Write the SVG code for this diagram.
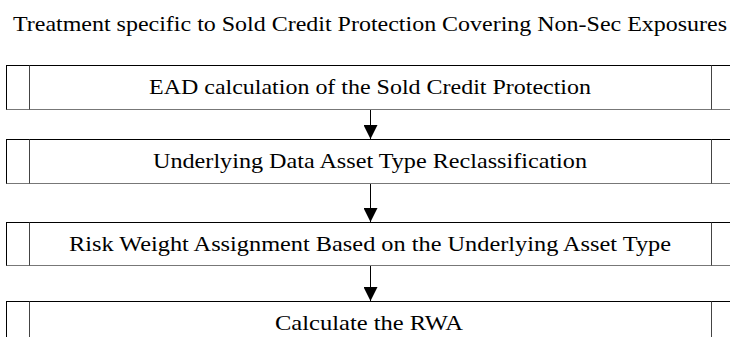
<svg xmlns="http://www.w3.org/2000/svg" width="730" height="337" viewBox="0 0 730 337">
<defs>
<style>
.box{fill:#fff;stroke:#000;stroke-width:1}
.bot{stroke:#777;stroke-width:1}
.bar{stroke:#444;stroke-width:1}
.conn{stroke:#000;stroke-width:1;fill:none}
</style>
<marker id="ah" markerWidth="14" markerHeight="14" refX="14" refY="7" orient="auto" markerUnits="userSpaceOnUse">
<path d="M0,0 L14,7 L0,14 Z" fill="#000"/>
</marker>
</defs>
<rect width="730" height="337" fill="#fff"/>
<g font-family="Liberation Serif, DejaVu Serif, serif" font-size="22" fill="#000">
<text x="13" y="31" textLength="714" lengthAdjust="spacingAndGlyphs">Treatment specific to Sold Credit Protection Covering Non-Sec Exposures</text>
<g id="n1">
<rect class="box" x="6.5" y="65.5" width="728" height="44"/>
<line class="bot" x1="6.5" y1="109.5" x2="734.5" y2="109.5"/>
<line class="bar" x1="29.5" y1="65.5" x2="29.5" y2="109.5"/>
<line class="bar" x1="711.5" y1="65.5" x2="711.5" y2="109.5"/>
<text x="149" y="94" textLength="442" lengthAdjust="spacingAndGlyphs">EAD calculation of the Sold Credit Protection</text>
</g>
<g id="n2">
<rect class="box" x="6.5" y="139.5" width="728" height="44"/>
<line class="bot" x1="6.5" y1="183.5" x2="734.5" y2="183.5"/>
<line class="bar" x1="29.5" y1="139.5" x2="29.5" y2="183.5"/>
<line class="bar" x1="711.5" y1="139.5" x2="711.5" y2="183.5"/>
<text x="153" y="168" textLength="434" lengthAdjust="spacingAndGlyphs">Underlying Data Asset Type Reclassification</text>
</g>
<g id="n3">
<rect class="box" x="6.5" y="222.5" width="728" height="43"/>
<line class="bot" x1="6.5" y1="265.5" x2="734.5" y2="265.5"/>
<line class="bar" x1="29.5" y1="222.5" x2="29.5" y2="265.5"/>
<line class="bar" x1="711.5" y1="222.5" x2="711.5" y2="265.5"/>
<text x="69" y="251" textLength="602" lengthAdjust="spacingAndGlyphs">Risk Weight Assignment Based on the Underlying Asset Type</text>
</g>
<g id="n4">
<rect class="box" x="6.5" y="301.5" width="728" height="44"/>
<line class="bar" x1="29.5" y1="301.5" x2="29.5" y2="345.5"/>
<line class="bar" x1="711.5" y1="301.5" x2="711.5" y2="345.5"/>
<text x="275" y="330" textLength="188" lengthAdjust="spacingAndGlyphs">Calculate the RWA</text>
</g>
</g>
<g id="connectors">
<line class="conn" x1="370.5" y1="110" x2="370.5" y2="139" marker-end="url(#ah)"/>
<line class="conn" x1="370.5" y1="184" x2="370.5" y2="222" marker-end="url(#ah)"/>
<line class="conn" x1="370.5" y1="266" x2="370.5" y2="301" marker-end="url(#ah)"/>
</g>
</svg>
